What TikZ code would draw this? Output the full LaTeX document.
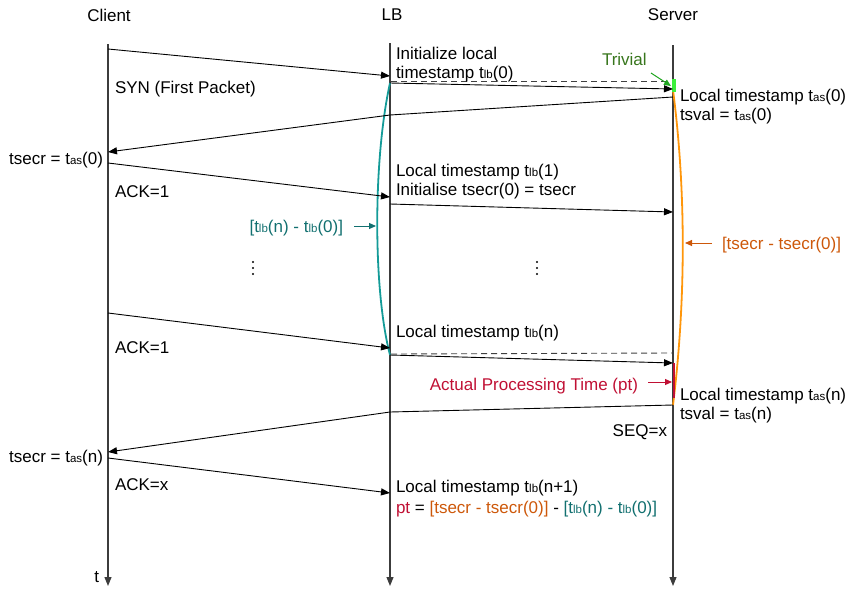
\documentclass[tikz,border=0pt]{standalone}
\usepackage{fontspec}
\setmainfont{Liberation Sans}
\usetikzlibrary{arrows.meta}
\definecolor{tealline}{RGB}{20,155,152}
\definecolor{tealtext}{RGB}{18,112,112}
\definecolor{orangeline}{RGB}{255,150,10}
\definecolor{orangetext}{RGB}{205,88,10}
\definecolor{redtext}{RGB}{192,16,52}
\definecolor{greentext}{RGB}{56,118,29}
\definecolor{greenarrow}{RGB}{30,165,30}
\definecolor{greenbar}{RGB}{60,240,60}
\definecolor{lifegray}{RGB}{60,60,60}
\newcommand\smallsub[1]{{\fontsize{11.5}{11.5}\selectfont #1}}
\begin{document}
\begin{tikzpicture}[x=1pt,y=-1pt,
  every node/.style={inner sep=0pt,outer sep=0pt,font=\fontsize{17}{20}\selectfont},
  txt/.style={anchor=base west},
  rtxt/.style={anchor=base east},
  lifeline/.style={draw=lifegray,line width=1.1pt,-{Triangle[length=9pt,width=7pt]}},
  msg/.style={draw=black,line width=0.9pt,-{Triangle[length=9pt,width=7pt]}},
  dashmsg/.style={draw=black!75,line width=0.9pt,dash pattern=on 6pt off 4pt},
  hint/.style={line width=1pt,-{Triangle[length=7pt,width=6pt]}},
  dotmark/.style={fill=black,draw=none,circle,minimum size=2.2pt,inner sep=0pt}]
\useasboundingbox (0,0) rectangle (848,590);
% headers
\node (hc) at (109,15) {Client};
\node (hl) at (392,15) {LB};
\node (hs) at (673,15) {Server};
% lifelines
\coordinate (c0) at (108,44); \coordinate (c1) at (108,586);
\coordinate (l0) at (390,43); \coordinate (l1) at (390,586);
\coordinate (s0) at (673,45); \coordinate (s1) at (673,586);
\draw[lifeline] (c0) -- (c1);
\draw[lifeline] (l0) -- (l1);
\draw[lifeline] (s0) -- (s1);
\node[anchor=base east] (tl) at (99,582) {t};
% message coordinates
\coordinate (m1a) at (108,49);  \coordinate (m1b) at (390,76);
\coordinate (m2a) at (390,83);  \coordinate (m2b) at (673,89);
\coordinate (d1a) at (391,81);  \coordinate (d1b) at (668,81);
\coordinate (m3a) at (673,97);  \coordinate (m3k) at (390,115); \coordinate (m3b) at (108,152);
\coordinate (m4a) at (108,163); \coordinate (m4b) at (390,197);
\coordinate (m5a) at (390,204); \coordinate (m5b) at (673,212);
\coordinate (m7a) at (108,313); \coordinate (m7b) at (390,348);
\coordinate (m8a) at (390,355); \coordinate (m8b) at (673,363);
\coordinate (d2a) at (391,354); \coordinate (d2b) at (672,353);
\coordinate (m9a) at (673,405); \coordinate (m9k) at (390,412); \coordinate (m9b) at (108,452);
\coordinate (m10a) at (108,458); \coordinate (m10b) at (390,493);
% curves
\draw[tealline,line width=1.8pt] (m2a) .. controls (373,160) and (373,290) .. (m8a);
\draw[orangeline,line width=1.8pt] (673,90) .. controls (686,190) and (686,300) .. (m9a);
\draw[redtext,line width=2.4pt] (674,363) -- (674,398);
\draw[greenbar,line width=4pt] (674,79) -- (674,92);
% messages
\draw[msg] (m1a) -- (m1b);
\draw[dashmsg] (d1a) -- (d1b);
\draw[msg] (m2a) -- (m2b);
\draw[msg] (m3a) -- (m3k) -- (m3b);
\draw[msg] (m4a) -- (m4b);
\draw[msg] (m5a) -- (m5b);
\draw[msg] (m7a) -- (m7b);
\draw[dashmsg] (d2a) -- (d2b);
\draw[msg] (m8a) -- (m8b);
\draw[msg] (m9a) -- (m9k) -- (m9b);
\draw[msg] (m10a) -- (m10b);
% labels
\node[txt] (syn) at (115,93) {SYN (First Packet)};
\node[txt] (il1) at (396,59) {Initialize local};
\node[txt] (il2) at (396,78) {timestamp t\smallsub{lb}(0)};
\node[txt,text=greentext] (triv) at (602,65) {Trivial};
\coordinate (ga) at (651,73); \coordinate (gb) at (671,86);
\draw[hint,greenarrow] (ga) -- (gb);
\node[txt] (la0) at (680,101) {Local timestamp t\smallsub{as}(0)};
\node[txt] (tv0) at (680,120) {tsval = t\smallsub{as}(0)};
\node[rtxt] (ts0) at (103,164) {tsecr = t\smallsub{as}(0)};
\node[txt] (ack1) at (115,197) {ACK=1};
\node[txt] (lt1) at (396,176) {Local timestamp t\smallsub{lb}(1)};
\node[txt] (init) at (396,195) {Initialise tsecr(0) = tsecr};
\node[rtxt,text=tealtext] (tealbl) at (343,232) {[t\smallsub{lb}(n) - t\smallsub{lb}(0)]};
\coordinate (ta) at (354,226); \coordinate (tb) at (376,226);
\draw[hint,tealtext] (ta) -- (tb);
\node[txt,text=orangetext] (orlbl) at (722,249) {[tsecr - tsecr(0)]};
\coordinate (oa) at (712,243); \coordinate (ob) at (685,243);
\draw[hint,orangetext] (oa) -- (ob);
\foreach \yy [count=\k] in {262,268,274} {
  \node[dotmark] (dl\k) at (253,\yy) {};
  \node[dotmark] (dr\k) at (537,\yy) {};
}
\node[txt] (ack2) at (115,353) {ACK=1};
\node[txt] (ltn) at (396,337) {Local timestamp t\smallsub{lb}(n)};
\node[rtxt,text=redtext] (apt) at (638,390) {Actual Processing Time (pt)};
\coordinate (ra) at (648,382); \coordinate (rb) at (672,382);
\draw[hint,redtext] (ra) -- (rb);
\node[txt] (lan) at (680,400) {Local timestamp t\smallsub{as}(n)};
\node[txt] (tvn) at (680,419) {tsval = t\smallsub{as}(n)};
\node[rtxt] (seq) at (667,436) {SEQ=x};
\node[rtxt] (tsn) at (103,462) {tsecr = t\smallsub{as}(n)};
\node[txt] (ackx) at (115,490) {ACK=x};
\node[txt] (ltn1) at (396,492) {Local timestamp t\smallsub{lb}(n+1)};
\node[txt] (pt) at (396,513) {\textcolor{redtext}{pt} = \textcolor{orangetext}{[tsecr - tsecr(0)]} - \textcolor{tealtext}{[t\smallsub{lb}(n) - t\smallsub{lb}(0)]}};
\end{tikzpicture}
\end{document}
